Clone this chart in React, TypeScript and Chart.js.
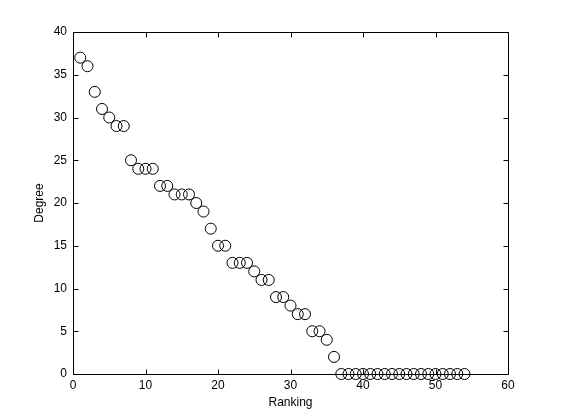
import React, { useEffect, useRef } from "react";
import { Chart, registerables } from "chart.js";

Chart.register(...registerables);

const ranking = [
  1, 2, 3, 4, 5, 6, 7, 8, 9, 10, 11, 12, 13, 14, 15, 16, 17, 18, 19, 20, 21, 22, 23, 24, 25, 26, 27,
  28, 29, 30, 31, 32, 33, 34, 35, 36, 37, 38, 39, 40, 41, 42, 43, 44, 45, 46, 47, 48, 49, 50, 51, 52,
  53, 54,
];
const degree = [
  37, 36, 33, 31, 30, 29, 29, 25, 24, 24, 24, 22, 22, 21, 21, 21, 20, 19, 17, 15, 15, 13, 13, 13, 12,
  11, 11, 9, 9, 8, 7, 7, 5, 5, 4, 2, 0, 0, 0, 0, 0, 0, 0, 0, 0, 0, 0, 0, 0, 0, 0, 0, 0, 0,
];
const xTicks = [0, 10, 20, 30, 40, 50, 60];
const yTicks = [0, 5, 10, 15, 20, 25, 30, 35, 40];
const xLabel = "Ranking";
const yLabel = "Degree";

const framePlugin = {
  id: "frame",
  beforeDatasetsDraw(chart: any) {
    const { ctx, chartArea } = chart;
    const { left, right, top, bottom } = chartArea;
    const xs = chart.scales.x;
    const ys = chart.scales.y;
    const tl = 5;
    ctx.save();
    ctx.strokeStyle = "#000";
    ctx.lineWidth = 1;
    ctx.beginPath();
    const L = Math.round(left) + 0.5;
    const R = Math.round(right) + 0.5;
    const T = Math.round(top) + 0.5;
    const B = Math.round(bottom) + 0.5;
    ctx.rect(L, T, R - L, B - T);
    xs.ticks.forEach((t: any) => {
      const px = Math.round(xs.getPixelForValue(t.value)) + 0.5;
      ctx.moveTo(px, B);
      ctx.lineTo(px, B - tl);
      ctx.moveTo(px, T);
      ctx.lineTo(px, T + tl);
    });
    ys.ticks.forEach((t: any) => {
      const py = Math.round(ys.getPixelForValue(t.value)) + 0.5;
      ctx.moveTo(L, py);
      ctx.lineTo(L + tl, py);
      ctx.moveTo(R, py);
      ctx.lineTo(R - tl, py);
    });
    ctx.stroke();
    ctx.restore();
  },
};

export default function App() {
  const ref = useRef<HTMLCanvasElement | null>(null);
  useEffect(() => {
    if (!ref.current) return;
    const font = { family: "'Liberation Sans', Arial, sans-serif", size: 12 };
    const chart = new Chart(ref.current, {
      type: "scatter",
      data: {
        datasets: [
          {
            data: ranking.map((r, i) => ({ x: r, y: degree[i] })),
            pointStyle: "circle",
            pointRadius: 5.5,
            pointHoverRadius: 5.5,
            borderColor: "#000",
            backgroundColor: "rgba(0,0,0,0)",
            borderWidth: 1,
            clip: false as any,
          },
        ],
      },
      options: {
        animation: false,
        responsive: false,
        maintainAspectRatio: false,
        events: [],
        layout: { padding: { left: 0, top: 32, right: 53, bottom: 0 } },
        plugins: { legend: { display: false }, tooltip: { enabled: false } },
        scales: {
          x: {
            type: "linear",
            min: 0,
            max: 60,
            afterBuildTicks: (s: any) => {
              s.ticks = xTicks.map((v) => ({ value: v }));
            },
            afterFit: (s: any) => {
              s.height = 46;
            },
            grid: { display: false, drawTicks: false },
            border: { display: false },
            ticks: { color: "#000", font, padding: 4, maxRotation: 0, autoSkip: false },
            title: { display: true, text: xLabel, color: "#000", font, padding: { top: 0, bottom: 10 } },
          },
          y: {
            type: "linear",
            min: 0,
            max: 40,
            afterBuildTicks: (s: any) => {
              s.ticks = yTicks.map((v) => ({ value: v }));
            },
            afterFit: (s: any) => {
              s.width = 73;
            },
            grid: { display: false, drawTicks: false },
            border: { display: false },
            ticks: { color: "#000", font, padding: 6, autoSkip: false },
            title: { display: true, text: yLabel, color: "#000", font, padding: { top: 32, bottom: 0 } },
          },
        },
      },
      plugins: [framePlugin],
    } as any);
    return () => chart.destroy();
  }, []);
  return (
    <div style={{ position: "fixed", left: 0, top: 0, width: 561, height: 420, background: "#fff" }}>
      <canvas ref={ref} width={561} height={420} style={{ display: "block" }} />
    </div>
  );
}
